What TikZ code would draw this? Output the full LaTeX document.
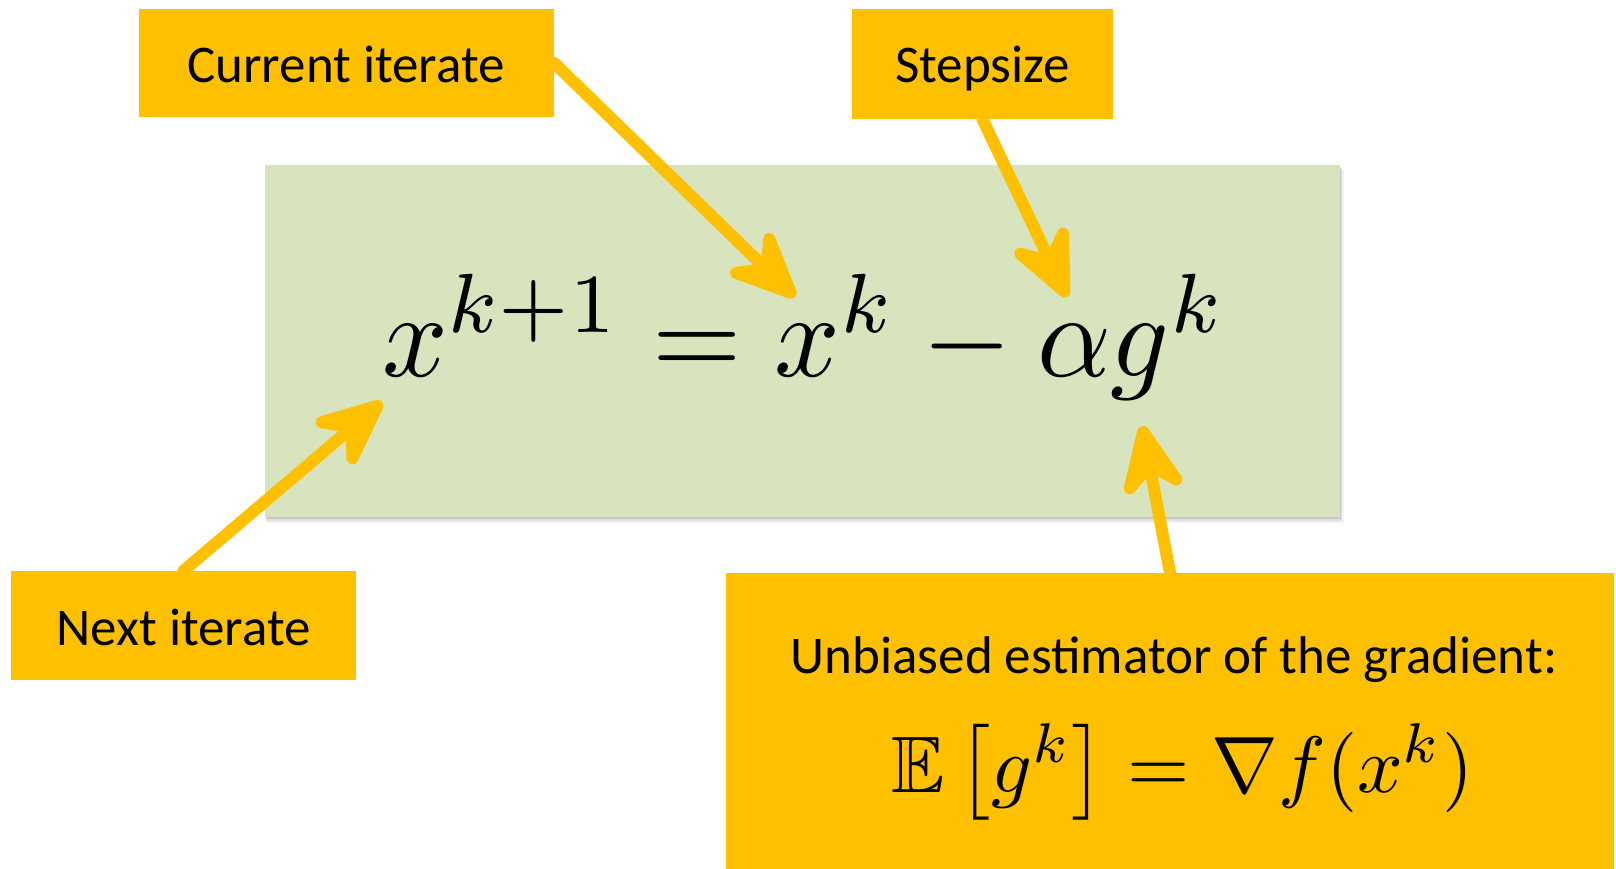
\documentclass[tikz,border=0pt]{standalone}
\usepackage{fontspec}
\setsansfont{Carlito}
\usepackage{amssymb}
\usepackage{graphicx}
\usetikzlibrary{arrows.meta}
\definecolor{gold}{HTML}{FFC000}
\definecolor{olivelight}{HTML}{D7E4BD}
\pgfdeclarelayer{bg}
\pgfdeclarelayer{arrowlayer}
\pgfsetlayers{bg,arrowlayer,main}
\tikzset{
  ybox/.style={fill=gold, inner sep=0pt},
  ytext/.style={inner sep=0pt, anchor=base, font=\fontsize{53}{60}\selectfont\sffamily},
  gbox/.style={fill=olivelight, inner sep=0pt},
  arr/.style={draw=gold, line width=12pt, line cap=round,
    -{Stealth[length=88pt, width=78pt, inset=32pt, round]}},
}
\begin{document}
\begin{tikzpicture}[x=1pt,y=-1pt]
\useasboundingbox (0,0) rectangle (1616,868);
\begin{pgfonlayer}{bg}
% shadow of green box
\fill[black, opacity=0.05] (267,170) rectangle (1344,523);
\fill[black, opacity=0.08] (266,168) rectangle (1342,521);
\fill[black, opacity=0.10] (266,167) rectangle (1341,519);
\node[gbox, minimum width=1075pt, minimum height=352pt] (eq) at (802.5,341) {};
\end{pgfonlayer}
\node[anchor=base west, inner sep=0pt] (eqn) at (382,376)
  {\scalebox{11.5}[12]{$x^{k+1} = x^k - \alpha g^k$}};
% boxes
\node[ybox, minimum width=415pt, minimum height=108pt] (cur) at (346.5,63) {};
\node[ytext] (curt) at (346,82) {Current iterate};
\node[ybox, minimum width=261pt, minimum height=110pt] (step) at (982.5,64) {};
\node[ytext] (stept) at (982.5,82) {Stepsize};
\node[ybox, minimum width=345pt, minimum height=109pt] (next) at (183.5,625.5) {};
\node[ytext] (nextt) at (183.5,645) {Next iterate};
\node[ybox, minimum width=888pt, minimum height=300pt] (unb) at (1170,723) {};
\node[ytext] (unbt) at (1174,673) {Unbiased estimator of the gradient:};
\node[anchor=base west, inner sep=0pt] (unbm) at (891,792)
  {\scalebox{8}{$\mathbb{E}\left[g^k\right] = \nabla f(x^k)$}};
% arrow tips
\coordinate (t1) at (795,297);
\coordinate (t2) at (1067,297);
\coordinate (t3) at (382,402);
\coordinate (t4) at (1142,426);
\begin{pgfonlayer}{arrowlayer}
\draw[arr] (cur.east) -- (t1);
\draw[arr] (step.south) -- (t2);
\draw[arr] (next.north) -- (t3);
\draw[arr] (unb.north) -- (t4);
\end{pgfonlayer}
\end{tikzpicture}
\end{document}
